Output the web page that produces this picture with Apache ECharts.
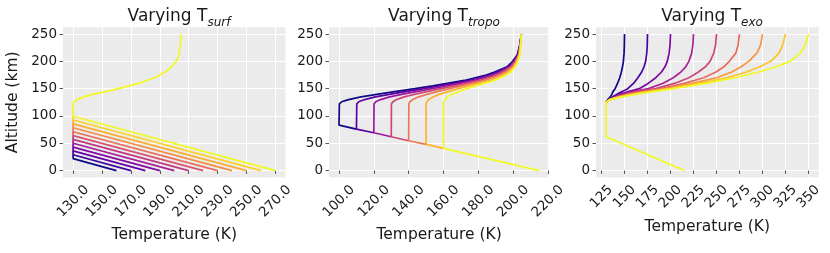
<!DOCTYPE html>
<html>
<head>
<meta charset="utf-8">
<script src="https://cdn.jsdelivr.net/npm/echarts@6/dist/echarts.min.js"></script>
<style>
html,body{margin:0;padding:0;background:#fff;}
#chart{width:830px;height:253px;}
</style>
</head>
<body>
<div id="chart"></div>
<script>
// ---------- DATA ----------
// Panel 1: varying surface temperature
const surfTemps = [160, 170, 180, 190, 200, 210, 220, 230, 240, 250, 260, 270];
const surfTropoT = 130;
const surfTropoAlt = [22, 29, 36, 43, 50, 57, 64, 71, 78.5, 85.5, 92.5, 99.5];
const surfUpperZ = [122, 126, 130, 135, 140, 145, 150, 155, 160, 165, 170, 175, 180, 190, 200, 212, 230, 250];
const surfUpperT = [130, 130.8, 132.5, 137.5, 144, 153.4, 161.2, 168.7, 175.8, 181, 186.3, 189.8, 193.4, 198.2, 201.3, 203.2, 204.2, 204.7];

// Panel 2: varying tropopause temperature
const tropoSurfT = 215;
const tropoTemps = [100, 110, 120, 130, 140, 150, 160];
const tropoAlt = [83.3, 76, 69.3, 62, 54.6, 48, 40.6];
const tropoUpperZ = [122, 126, 130, 135, 140, 145, 150, 155, 160, 165, 170, 175, 180, 190, 200, 212, 230, 250];
const tropoUpperT = [
  [100.2, 101.5, 105.5, 112.6, 122.6, 133, 143.6, 153.8, 163, 172, 178.2, 184.5, 189, 196.5, 199.7, 202.4, 203.8, 204.7],
  [110.2, 111.3, 114.7, 120.9, 129.7, 139, 148.6, 157.9, 166.5, 174.9, 180.6, 186.4, 190.6, 197.3, 200.2, 202.6, 203.9, 204.7],
  [120.1, 121.1, 123.9, 129.1, 136.7, 145, 153.5, 162.1, 170, 177.7, 183.1, 188.3, 192.1, 198, 200.7, 202.9, 204, 204.7],
  [130.1, 130.9, 133.2, 137.4, 143.8, 151, 158.5, 166.2, 173.5, 180.6, 185.5, 190.3, 193.7, 198.8, 201.2, 203.1, 204.1, 204.7],
  [140.1, 140.6, 142.4, 145.7, 150.9, 157, 163.4, 170.3, 176.9, 183.5, 187.9, 192.2, 195.3, 199.6, 201.6, 203.3, 204.1, 204.7],
  [150, 150.4, 151.6, 154, 158, 163, 168.4, 174.5, 180.4, 186.3, 190.4, 194.1, 196.8, 200.3, 202.1, 203.6, 204.2, 204.7],
  [160, 160.2, 160.8, 162.2, 165, 169, 173.3, 178.6, 183.9, 189.2, 192.8, 196, 198.4, 201.1, 202.6, 203.8, 204.3, 204.7]
];

// Panel 3: varying exospheric temperature
const exoSurfT = 215;
const exoTropoT = 130;
const exoTropoAlt = 62;
const exoTemps = [150, 175, 200, 225, 250, 275, 300, 325, 350];
const exoUpperZ = [125, 130, 135, 140, 145, 150, 160, 170, 180, 190, 200, 215, 230, 250];
const exoUpperT = [
  [130, 132, 134.5, 136.3, 137.6, 139.8, 142.5, 144.8, 146.5, 147.8, 148.8, 149.5, 149.8, 150],
  [130, 133, 137, 142, 148, 153.5, 160, 164.5, 168.5, 171.2, 173, 174.2, 174.7, 175],
  [130, 133.5, 139, 146, 155, 166, 176, 184, 190, 194, 196.5, 198.5, 199.5, 200],
  [130, 133.5, 140.5, 149, 160, 176, 192, 203, 211, 216.5, 220, 223, 224.3, 225],
  [130, 134, 141.5, 151.5, 165, 184, 205, 220, 230, 238, 243, 247, 249, 250],
  [130, 134, 142.5, 154, 170, 190, 216, 236, 249, 258, 264, 271, 273.5, 275],
  [130, 134, 144, 157, 175, 195, 225, 250, 266, 277, 285, 294, 298, 300],
  [130, 134, 145.5, 160, 179, 199, 233, 261, 282, 297, 309, 318, 322, 325],
  [130, 134, 147, 163, 183, 203, 240, 270, 295, 315, 330, 341, 346.5, 350]
];

// Tick labels
const surfTicks = [130, 150, 170, 190, 210, 230, 250, 270];
const tropoTicks = [100, 120, 140, 160, 180, 200, 220];
const exoTicks = [125, 150, 175, 200, 225, 250, 275, 300, 325, 350];
const altTicks = [0, 50, 100, 150, 200, 250];

// ---------- STYLE ----------
const FONT = 'DejaVu Sans';
const TXT = '#1a1a1a';
const plasmaStops = ['#0d0887','#41049d','#6a00a8','#8f0da4','#b12a90','#cc4778','#e16462','#f2844b','#fca636','#fcce25','#f0f921'];
function hex2rgb(h){return [parseInt(h.slice(1,3),16),parseInt(h.slice(3,5),16),parseInt(h.slice(5,7),16)];}
function plasma(t){
  const p = t*(plasmaStops.length-1); const i = Math.min(Math.floor(p), plasmaStops.length-2); const f = p-i;
  const a = hex2rgb(plasmaStops[i]), b = hex2rgb(plasmaStops[i+1]);
  return 'rgb(' + a.map((v,k)=>Math.round(v+(b[k]-v)*f)).join(',') + ')';
}

const grids = [
  {left: 63, top: 27.2, width: 222.5, height: 150.2},
  {left: 329, top: 27.2, width: 220.3, height: 150.2},
  {left: 596, top: 27.2, width: 222.6, height: 150.2}
].map(g => Object.assign(g, {show: true, backgroundColor: '#ebebeb', borderWidth: 0, containLabel: false}));

function xAxisCfg(idx, min, max, ticks, fmt, gap, margin){
  return {
    gridIndex: idx, type: 'value', min: min, max: max,
    axisLine: {show: false},
    axisTick: {show: true, length: 3.5, lineStyle: {color: '#555', width: 1}, customValues: ticks},
    axisLabel: {customValues: ticks, formatter: fmt, rotate: 45, align: 'center', verticalAlign: 'middle',
      fontSize: 13.5, color: TXT, fontFamily: FONT, margin: margin},
    splitLine: {show: true, lineStyle: {color: '#ffffff', width: 1}},
    name: 'Temperature (K)', nameLocation: 'middle', nameGap: gap,
    nameTextStyle: {fontSize: 15.5, color: TXT, fontFamily: FONT}
  };
}
function yAxisCfg(idx, withName){
  const c = {
    gridIndex: idx, type: 'value', min: -12.5, max: 262.5,
    axisLine: {show: false},
    axisTick: {show: true, length: 3.5, lineStyle: {color: '#555', width: 1}, customValues: altTicks},
    axisLabel: {customValues: altTicks, fontSize: 13.5, color: TXT, fontFamily: FONT, margin: 6},
    splitLine: {show: true, lineStyle: {color: '#ffffff', width: 1}}
  };
  if (withName) {
    Object.assign(c, {name: 'Altitude (km)', nameLocation: 'middle', nameGap: 42,
      nameTextStyle: {fontSize: 15.5, color: TXT, fontFamily: FONT}});
  }
  return c;
}

const series = [];
function addLine(idx, pts, color){
  series.push({type: 'line', xAxisIndex: idx, yAxisIndex: idx, data: pts, showSymbol: false,
    symbol: 'none', smooth: false, lineStyle: {color: color, width: 1.7}, z: 2});
}
// Lines are drawn in order; each later line hides the shared part of earlier ones,
// so only the visible pieces of the earlier lines are passed on.
surfTemps.forEach((ts, i) => {
  const last = i === surfTemps.length - 1;
  const pts = [[ts, 0], [surfTropoT, surfTropoAlt[i]]];
  if (last) surfUpperZ.forEach((z, j) => pts.push([surfUpperT[j], z]));
  else pts.push([surfTropoT, surfTropoAlt[i + 1]]);
  addLine(0, pts, plasma(i/(surfTemps.length-1)));
});
tropoTemps.forEach((tt, i) => {
  const last = i === tropoTemps.length - 1;
  const pts = last ? [[tropoSurfT, 0]] : [[tropoTemps[i + 1], tropoAlt[i + 1]]];
  pts.push([tt, tropoAlt[i]]);
  tropoUpperZ.forEach((z, j) => pts.push([tropoUpperT[i][j], z]));
  addLine(1, pts, plasma(i/(tropoTemps.length-1)));
});
exoTemps.forEach((te, i) => {
  const last = i === exoTemps.length - 1;
  const pts = last ? [[exoSurfT, 0], [exoTropoT, exoTropoAlt]] : [];
  exoUpperZ.forEach((z, j) => pts.push([exoUpperT[i][j], z]));
  addLine(2, pts, plasma(i/(exoTemps.length-1)));
});

function titleCfg(sub, cx){
  return {
    text: '{a|Varying T}{b|' + sub + '}', left: cx, top: 0, textAlign: 'center',
    textStyle: {fontWeight: 'normal', rich: {
      a: {fontSize: 17, fontFamily: FONT, color: TXT, fontWeight: 'normal', lineHeight: 24, verticalAlign: 'middle'},
      b: {fontSize: 12, fontFamily: FONT, color: TXT, fontWeight: 'normal', fontStyle: 'italic', lineHeight: 12, verticalAlign: 'bottom'}
    }}
  };
}

const chart = echarts.init(document.getElementById('chart'), null, {renderer: 'canvas'});
chart.setOption({
  animation: false,
  backgroundColor: '#ffffff',
  title: [titleCfg('surf', 174), titleCfg('tropo', 439), titleCfg('exo', 707)],
  grid: grids,
  xAxis: [
    xAxisCfg(0, 123, 277, surfTicks, v => v.toFixed(1), 50, 24),
    xAxisCfg(1, 94.25, 220.75, tropoTicks, v => v.toFixed(1), 50, 24),
    xAxisCfg(2, 119, 361, exoTicks, v => String(v), 42, 19.5)
  ],
  yAxis: [yAxisCfg(0, true), yAxisCfg(1, false), yAxisCfg(2, false)],
  series: series
});
</script>
</body>
</html>
